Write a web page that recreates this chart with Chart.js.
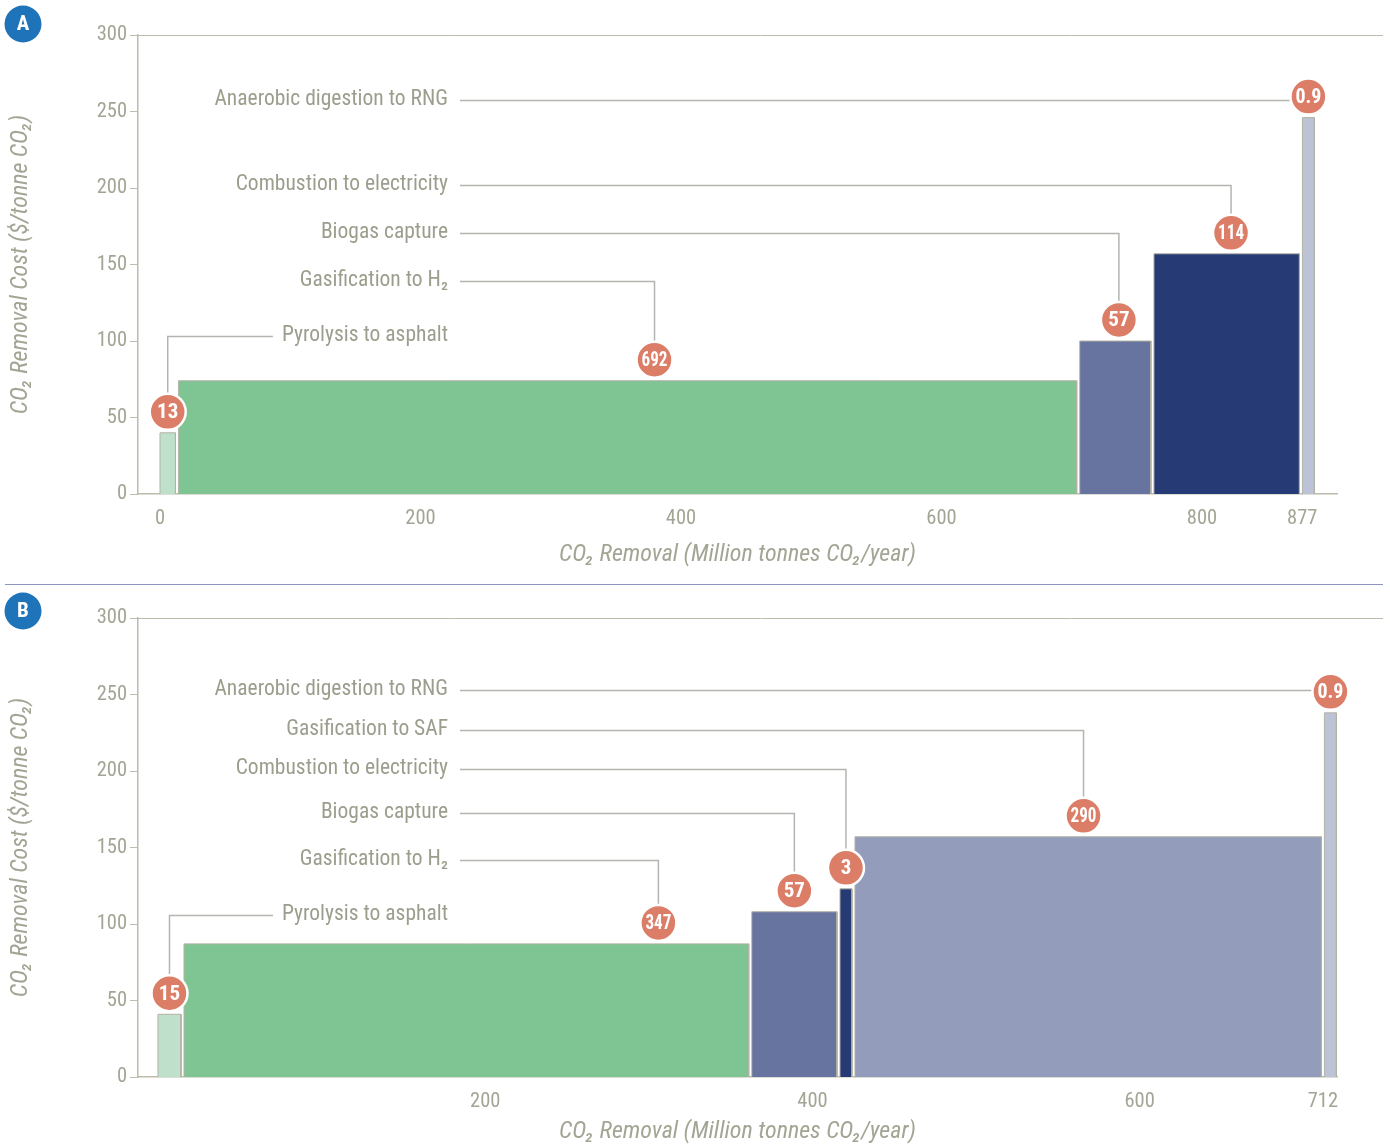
<!DOCTYPE html>
<html lang="en">
<head>
<meta charset="UTF-8">
<title>CO₂ removal cost curves</title>
<style>
  html, body { margin: 0; padding: 0; background: #fff; }
  body { width: 1390px; height: 1146px; position: relative; overflow: hidden; }
  .panel { position: absolute; left: 0; width: 1390px; }
  #panelA { top: 0; height: 580px; }
  #panelB { top: 590px; height: 556px; }
  .rule { position: absolute; left: 5px; width: 1378px; top: 584px; border-top: 1.5px solid #8e96c0; }
</style>
</head>
<body>
<div class="panel" id="panelA"><canvas id="chartA"></canvas></div>
<div class="rule"></div>
<div class="panel" id="panelB"><canvas id="chartB"></canvas></div>
<script src="https://cdn.jsdelivr.net/npm/chart.js"></script>
<script>
// --- scenario A ---
const pathwaysA = ['Pyrolysis to asphalt', 'Gasification to H₂', 'Biogas capture', 'Combustion to electricity', 'Anaerobic digestion to RNG'];
const removalA = [13, 692, 57, 114, 0.9];      // Mt CO2 / year
const costA = [40, 74, 100, 157, 246];         // $ / tonne CO2
const xTicksA = [0, 200, 400, 600, 800, 877];

// --- scenario B ---
const pathwaysB = ['Pyrolysis to asphalt', 'Gasification to H₂', 'Biogas capture', 'Combustion to electricity', 'Gasification to SAF', 'Anaerobic digestion to RNG'];
const removalB = [15, 347, 57, 3, 290, 0.9];
const costB = [41, 87, 108, 123, 157, 238];
const xTicksB = [200, 400, 600, 712];

const yTicks = [0, 50, 100, 150, 200, 250, 300];

// callout rows (in $/t) and where the bubble sits along each bar
const rowsA = [103, 139, 170.5, 202, 257.5];
const rowsB = [106, 142, 172.5, 201, 227, 253];
const bubbleAtA = [0.5, 0.53, 0.55, 0.53, 0.5];
const bubbleAtB = [0.5, 0.84, 0.5, 0.5, 0.49, 0.5];

const coloursA = ['#bfe0ca', '#7fc493', '#6874a0', '#263a75', '#bcc3d7'];
const coloursB = ['#bfe0ca', '#7fc493', '#6874a0', '#263a75', '#939cba', '#bcc3d7'];

const GREY = '#a3a594';
const AXIS = '#bcbcad';
const EDGE = '#b2b3a5';
const BUBBLE = '#dc7e67';
const FONT = "'Liberation Sans Narrow', 'Roboto Condensed', 'Arial Narrow', 'DejaVu Sans Condensed', sans-serif";

Chart.defaults.font.family = FONT;
Chart.defaults.color = GREY;

// cumulative [start, end] of each pathway along the removal axis
function extents(widths) {
  let s = 0;
  return widths.map(w => { const e = [s, s + w]; s += w; return e; });
}

function rect(a, b, h) {
  return [{ x: a, y: 0 }, { x: a, y: h }, { x: b, y: h }, { x: b, y: 0 }];
}

function barDatasets(widths, costs, colours) {
  return extents(widths).map(([a, b], i) => ({
    data: rect(a, b, costs[i]),
    backgroundColor: colours[i],
    borderColor: EDGE,
    borderWidth: 1,
    fill: 'origin',
    pointRadius: 0,
    tension: 0
  }));
}

// after the first layout: keep a small white gap between bars and
// widen slivers so that tiny pathways remain visible
function separateBars(chart) {
  const x = chart.scales.x;
  const gap = 3, minW = 12;
  const sets = chart.data.datasets;
  const px = sets.map(d => [x.getPixelForValue(d.data[0].x), x.getPixelForValue(d.data[2].x)]);
  const n = px.length;
  const wide = px.map(() => false);
  px.forEach((p, i) => {
    if (p[1] - p[0] < minW) {
      wide[i] = true;
      if (i === n - 1) { p[0] += gap / 2; p[1] = p[0] + minW; }
      else { const c = (p[0] + p[1]) / 2; p[0] = c - minW / 2; p[1] = c + minW / 2; }
    }
  });
  for (let i = 1; i < n; i++) {
    const prev = px[i - 1], cur = px[i];
    if (wide[i] && !wide[i - 1]) prev[1] = cur[0] - gap;
    else if (wide[i - 1] && !wide[i]) cur[0] = prev[1] + gap;
    else { const e = prev[1]; prev[1] = e - gap / 2; cur[0] = e + gap / 2; }
  }
  sets.forEach((d, i) => {
    const h = d.data[1].y;
    d.data = rect(x.getValueForPixel(px[i][0]), x.getValueForPixel(px[i][1]), h);
  });
  chart.update('none');
}

const frame = {
  id: 'frame',
  beforeDatasetsDraw(chart) {
    const { ctx, chartArea, scales: { y } } = chart;
    const top = Math.round(y.getPixelForValue(300)) + 0.5;
    ctx.save();
    ctx.strokeStyle = AXIS;
    ctx.lineWidth = 1;
    ctx.beginPath();
    ctx.moveTo(chartArea.left, top);
    ctx.lineTo(chart.width - 7, top);
    ctx.stroke();
    ctx.restore();
  },
  afterDraw(chart, args, opts) {
    const { ctx } = chart;
    ctx.save();
    ctx.fillStyle = '#1f73b8';
    ctx.beginPath();
    ctx.arc(23, opts.badgeY, 18.5, 0, Math.PI * 2);
    ctx.fill();
    ctx.fillStyle = '#fff';
    ctx.font = "bold 21px " + FONT;
    ctx.textAlign = 'center';
    ctx.textBaseline = 'middle';
    ctx.fillText(opts.badge, 23, opts.badgeY + 1);
    ctx.restore();
  }
};

const callouts = {
  id: 'callouts',
  afterDatasetsDraw(chart, args, opts) {
    const { ctx, scales: { x, y } } = chart;
    const R = 18;
    const textRight = 448;
    const labelFont = "21.5px " + FONT;
    ctx.save();
    const marks = chart.data.datasets.map((d, i) => {
      const x0 = x.getPixelForValue(d.data[0].x);
      const x1 = x.getPixelForValue(d.data[2].x);
      const cx = x0 + (x1 - x0) * opts.at[i];
      const cy = y.getPixelForValue(opts.cost[i]) - 21;
      const ly = Math.round(y.getPixelForValue(opts.rows[i])) + 0.5;
      return { cx, cy, ly };
    });
    // labels and leader lines
    marks.forEach((m, i) => {
      const name = opts.names[i];
      ctx.font = labelFont;
      const tw = ctx.measureText(name).width;
      ctx.fillStyle = '#9c9e8d';
      ctx.textAlign = 'right';
      ctx.textBaseline = 'middle';
      ctx.fillText(name, textRight, m.ly - 1);
      ctx.strokeStyle = '#b4b4b0';
      ctx.lineWidth = 1.5;
      ctx.beginPath();
      const startX = m.cx > textRight ? textRight + 12 : textRight - tw - 9;
      ctx.moveTo(startX, m.ly);
      ctx.lineTo(m.cx, m.ly);
      if (m.cy - R > m.ly) ctx.lineTo(m.cx, m.cy - R);
      ctx.stroke();
    });
    // value bubbles
    marks.forEach((m, i) => {
      ctx.beginPath();
      ctx.arc(m.cx, m.cy, R, 0, Math.PI * 2);
      ctx.fillStyle = BUBBLE;
      ctx.fill();
      ctx.lineWidth = 2.5;
      ctx.strokeStyle = '#fff';
      ctx.stroke();
      ctx.fillStyle = '#fff';
      ctx.font = "bold 21px " + FONT;
      ctx.textAlign = 'center';
      ctx.textBaseline = 'middle';
      // squeeze three-character values so they sit inside the bubble
      ctx.fillText(String(opts.removal[i]), m.cx, m.cy + 1, 26);
    });
    ctx.restore();
  }
};

function makeChart(id, cfg) {
  const chart = new Chart(document.getElementById(id), {
    type: 'line',
    data: { datasets: barDatasets(cfg.removal, cfg.cost, cfg.colours) },
    options: {
      responsive: true,
      maintainAspectRatio: false,
      animation: false,
      events: [],
      layout: { padding: { top: cfg.top, right: 53, left: 0, bottom: 0 } },
      plugins: {
        legend: { display: false },
        tooltip: { enabled: false },
        frame: { badge: cfg.badge, badgeY: cfg.badgeY },
        callouts: { names: cfg.names, removal: cfg.removal, cost: cfg.cost, rows: cfg.rows, at: cfg.at }
      },
      scales: {
        x: {
          type: 'linear',
          min: cfg.xMin,
          max: cfg.xMax,
          grid: { display: false, drawTicks: false },
          border: { display: true, color: AXIS, width: 1.5 },
          afterBuildTicks: s => { s.ticks = cfg.xTicks.map(v => ({ value: v })); },
          afterFit: s => { s.height = cfg.xHeight; },
          ticks: { font: { size: 20.5 }, color: GREY, padding: 13, autoSkip: false, maxRotation: 0, callback: v => String(v) },
          title: {
            display: true,
            text: 'CO₂ Removal (Million tonnes CO₂/year)',
            color: GREY,
            font: { size: 24, style: 'italic' },
            padding: { top: 0, bottom: cfg.titlePad }
          }
        },
        y: {
          min: 0,
          max: 300,
          afterBuildTicks: s => { s.ticks = yTicks.map(v => ({ value: v })); },
          afterFit: s => { s.width = 138; },
          grid: { display: true, drawOnChartArea: false, drawTicks: true, tickLength: 8, color: AXIS, lineWidth: 1 },
          border: { display: true, color: AXIS, width: 1.5 },
          ticks: { font: { size: 20.5 }, color: GREY, padding: 3 },
          title: {
            display: true,
            text: 'CO₂ Removal Cost ($/tonne CO₂)',
            color: GREY,
            font: { size: 24, style: 'italic' },
            padding: { top: 7, bottom: 0 }
          }
        }
      }
    },
    plugins: [frame, callouts]
  });
  separateBars(chart);
  return chart;
}

makeChart('chartA', {
  names: pathwaysA, removal: removalA, cost: costA, colours: coloursA,
  rows: rowsA, at: bubbleAtA, xTicks: xTicksA,
  xMin: -16.9, xMax: 903.7, top: 35, xHeight: 86, titlePad: 11,
  badge: 'A', badgeY: 24
});

makeChart('chartB', {
  names: pathwaysB, removal: removalB, cost: costB, colours: coloursB,
  rows: rowsB, at: bubbleAtB, xTicks: xTicksB,
  xMin: -12.2, xMax: 720.6, top: 28, xHeight: 69, titlePad: 0,
  badge: 'B', badgeY: 21
});
</script>
</body>
</html>
